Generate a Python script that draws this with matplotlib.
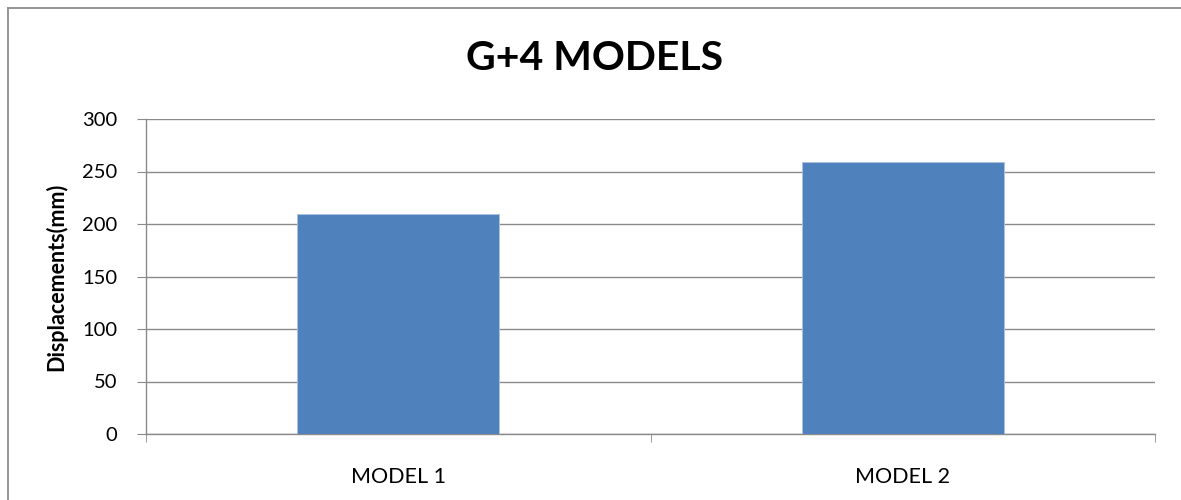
import matplotlib
matplotlib.use("Agg")
import matplotlib.pyplot as plt
from matplotlib.lines import Line2D

categories = ["MODEL 1", "MODEL 2"]
displacements = [210, 259]
y_ticks = [0, 50, 100, 150, 200, 250, 300]

plt.rcParams['font.family'] = ['Lato', 'DejaVu Sans']

W, H = 1181, 500
fig = plt.figure(figsize=(W / 100, H / 100), dpi=100)

# outer chart frame (left and top edges visible)
frame_kw = dict(transform=fig.transFigure, color="#8c8c8c", linewidth=1.3)
fig.lines.append(Line2D([7.5 / W, 7.5 / W], [0, 1 - 7.5 / H], **frame_kw))
fig.lines.append(Line2D([7.5 / W, 1], [1 - 7.5 / H, 1 - 7.5 / H], **frame_kw))

ax = fig.add_axes([146 / W, (H - 434) / H, (1155 - 146) / W, (434 - 119) / H])

bar_color = "#4F81BD"
ax.bar(range(len(categories)), displacements, width=0.4, color=bar_color,
       edgecolor="#a9c3e0", linewidth=0.6, zorder=3)

ax.set_xlim(-0.5, len(categories) - 0.5)
ax.set_ylim(0, 300)
ax.set_yticks(y_ticks)
ax.set_yticklabels([str(v) for v in y_ticks])
ax.yaxis.grid(True, color="#8a8a8a", linewidth=1.0, zorder=0)
ax.set_axisbelow(True)

for s in ["top", "right"]:
    ax.spines[s].set_visible(False)
for s in ["left", "bottom"]:
    ax.spines[s].set_color("#8a8a8a")
    ax.spines[s].set_linewidth(1.0)

ax.tick_params(axis="y", length=6.5, color="#8a8a8a", pad=14, labelsize=14.5, labelcolor="black")
ax.set_xticks([i for i in range(len(categories))])
ax.set_xticklabels(categories)
ax.set_xticks([-0.5, 0.5, 1.5], minor=True)
ax.tick_params(axis="x", which="major", length=0, pad=24, labelsize=15.5)
ax.tick_params(axis="x", which="minor", length=6, color="#8a8a8a")

ax.set_ylabel("Displacements(mm)", fontsize=15.5, fontweight="bold", labelpad=11)
fig.text(595 / W, 1 - 59 / H, "G+4 MODELS", ha="center", va="center",
         fontsize=29.5, fontweight="bold")

fig.savefig("out.png", dpi=100)
